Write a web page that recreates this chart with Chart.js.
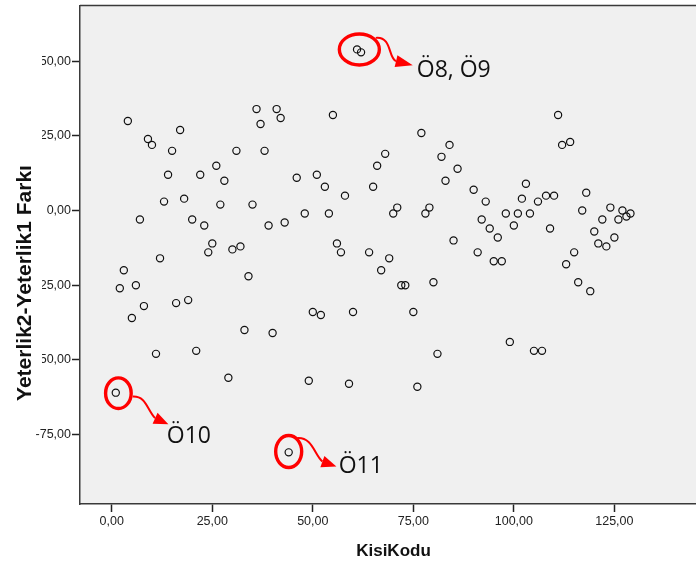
<!DOCTYPE html>
<html>
<head>
<meta charset="utf-8">
<script src="https://cdn.jsdelivr.net/npm/chart.js@4.4.1/dist/chart.umd.min.js"></script>
<style>
  html, body { margin: 0; padding: 0; background: #fff; }
  #chart { display: block; }
</style>
</head>
<body>
<canvas id="chart" width="696" height="561"></canvas>
<script>
"use strict"

// KisiKodu (x) and Yeterlik2 - Yeterlik1 difference (y)
const kisiKodu = [
  1, 2, 3, 4, 5, 6, 7, 8, 9, 10, 11, 12, 13, 14, 15, 16, 17, 18, 19, 20,
  21, 22, 23, 24, 25, 26, 27, 28, 29, 30, 31, 32, 33, 34, 35, 36, 37, 38, 39, 40,
  41, 42, 43, 44, 46, 48, 49, 50, 51, 52, 53, 54, 55, 56, 57, 58, 59, 60,
  61, 62, 64, 65, 66, 67, 68, 69, 70, 71, 72, 73, 75, 76, 77, 78, 79, 80,
  81, 82, 83, 84, 85, 86, 90, 91, 92, 93, 94, 95, 96, 97, 98, 99, 100,
  101, 102, 103, 104, 105, 106, 107, 108, 109, 110, 111, 112, 113, 114, 115, 116, 117, 118, 119, 120,
  121, 122, 123, 124, 125, 126, 127, 128, 129
];
const fark = [
  -61, -26, -20, 30, -36, -25, -3, -32, 24, 22, -48, -16, 3, 12, 20, -31, 27, 4, -30, -3,
  -47, 12, -5, -14, -11, 15, 2, 10, -56, -13, 20, -12, -40, -22, 2, 34, 29, 20, -5, -41,
  34, 31, -4, -81, 11, -1, -57, -34, 12, -35, 8, -1, 32, -11, -14, 5, -58, -34,
  54, 53, -14, 8, 15, -20, 19, -16, -1, 1, -25, -25, -34, -59, 26, -1, 1, -24,
  -48, 18, 10, 22, -10, 14, 7, -14, -3, 3, -6, -17, -9, -17, -1, -44, -5,
  -1, 4, 9, -1, -47, 3, -47, 5, -6, 5, 32, 22, -18, 23, -14, -24, 0, 6, -27, -7,
  -11, -3, -12, 1, -9, -3, 0, -2, -1
];

const xTicks = [0, 25, 50, 75, 100, 125];
const yTicks = [-75, -50, -25, 0, 25, 50];

const xTitle = 'KisiKodu';
const yTitle = 'Yeterlik2-Yeterlik1 Farkı';

// red rings + arrows marking the outliers (offsets in px from the ringed point)
const callouts = [
  { ids: [61, 62], text: 'Ö8, Ö9', shift: [0.3, -1.4], rx: 20, ry: 15.5,
    from: [16.4, -11.6], bend1: [32.7, -13.3], bend2: [28.7, 8.7], base: [36.7, 11.7], tip: [53.4, 15.7], label: [57.4, 28] },
  { ids: [1], text: 'Ö10', shift: [2.6, 0.5], rx: 12.8, ry: 15.3,
    from: [14.4, 3.4], bend1: [27.7, 2.7], bend2: [28.7, 16.7], base: [36.7, 25], tip: [50, 31], label: [48.4, 49.4] },
  { ids: [44], text: 'Ö11', shift: [0, -0.8], rx: 13, ry: 16,
    from: [8.4, -13.4], bend1: [23.7, -14.7], bend2: [25.7, 3.3], base: [33.7, 10], tip: [47.7, 15], label: [50, 21] }
];

const FONT = '"Liberation Sans", Arial, sans-serif';
const comma = v => Number(v).toFixed(2).replace('.', ',');

// gray plot panel, top border, axis titles and the red callouts
const frame = {
  id: 'frame',
  beforeDraw(chart) {
    const { ctx, chartArea: a } = chart;
    ctx.save();
    ctx.fillStyle = '#fff';
    ctx.fillRect(0, 0, chart.width, chart.height);
    ctx.fillStyle = '#f0f0f0';
    ctx.fillRect(a.left, a.top, a.right - a.left, a.bottom - a.top);
    ctx.restore();
  },
  afterDraw(chart) {
    const { ctx, chartArea: a, scales } = chart;
    ctx.save();
    ctx.strokeStyle = '#3a3a3a';
    ctx.lineWidth = 1.5;
    ctx.beginPath();
    ctx.moveTo(a.left, a.top);
    ctx.lineTo(a.right, a.top);
    ctx.stroke();

    // the y title box sits over the left edge of the tick labels
    ctx.fillStyle = '#fff';
    ctx.fillRect(0, 0, 42, 410);

    ctx.fillStyle = '#111';
    ctx.font = 'bold 21px ' + FONT;
    ctx.textAlign = 'center';
    ctx.textBaseline = 'alphabetic';
    ctx.save();
    ctx.translate(31, 283);
    ctx.rotate(-Math.PI / 2);
    ctx.fillText(yTitle, 0, 0);
    ctx.restore();
    ctx.font = 'bold 17px ' + FONT;
    ctx.fillText(xTitle, 393.5, 555.5);

    callouts.forEach(c => {
      const px = c.ids.map(id => scales.x.getPixelForValue(id));
      const py = c.ids.map(id => scales.y.getPixelForValue(fark[kisiKodu.indexOf(id)]));
      const cx = px.reduce((s, v) => s + v, 0) / px.length + c.shift[0];
      const cy = py.reduce((s, v) => s + v, 0) / py.length + c.shift[1];
      const p = o => [cx + o[0], cy + o[1]];

      ctx.strokeStyle = '#f00';
      ctx.fillStyle = '#f00';
      ctx.lineWidth = 3.4;
      ctx.beginPath();
      ctx.ellipse(cx, cy, c.rx, c.ry, 0, 0, Math.PI * 2);
      ctx.stroke();

      const s = p(c.from), b1 = p(c.bend1), b2 = p(c.bend2), e = p(c.base), t = p(c.tip);
      ctx.lineWidth = 2;
      ctx.beginPath();
      ctx.moveTo(s[0], s[1]);
      ctx.bezierCurveTo(b1[0], b1[1], b2[0], b2[1], e[0], e[1]);
      ctx.stroke();

      const dx = t[0] - e[0], dy = t[1] - e[1];
      const len = Math.hypot(dx, dy);
      const nx = -dy / len * 6, ny = dx / len * 6;
      ctx.beginPath();
      ctx.moveTo(t[0], t[1]);
      ctx.lineTo(e[0] + nx, e[1] + ny);
      ctx.lineTo(e[0] - nx, e[1] - ny);
      ctx.closePath();
      ctx.fill();

      const l = p(c.label);
      ctx.fillStyle = '#111';
      ctx.font = '23px "Open Sans", sans-serif';
      ctx.textAlign = 'left';
      ctx.fillText(c.text, l[0], l[1]);
    });
    ctx.restore();
  }
};

const axisGrid = { drawOnChartArea: false, drawTicks: true, tickLength: 8, tickColor: '#222', tickWidth: 1.5 };
const axisBorder = { display: true, color: '#3a3a3a', width: 1.5 };
const tickFont = { family: FONT, size: 12.5 };

new Chart(document.getElementById('chart'), {
  type: 'scatter',
  data: {
    datasets: [{
      data: kisiKodu.map((x, i) => ({ x: x, y: fark[i] })),
      pointRadius: 3.6,
      pointBorderWidth: 1.2,
      pointBorderColor: '#111',
      pointBackgroundColor: 'rgba(0,0,0,0)'
    }]
  },
  options: {
    responsive: false,
    animation: false,
    layout: { padding: { top: 5.5, right: 0, left: 0, bottom: 0 }, autoPadding: false },
    plugins: { legend: { display: false }, tooltip: { enabled: false } },
    scales: {
      x: {
        type: 'linear',
        min: -7.9,
        max: 145.3,
        afterBuildTicks: s => { s.ticks = xTicks.map(v => ({ value: v })); },
        afterFit: s => { s.height = 57; s.paddingLeft = 0; s.paddingRight = 0; },
        grid: axisGrid,
        border: axisBorder,
        ticks: { callback: v => comma(v), color: '#222', font: tickFont, padding: 2, maxRotation: 0, autoSkip: false }
      },
      y: {
        type: 'linear',
        min: -98.3,
        max: 68.7,
        afterBuildTicks: s => { s.ticks = yTicks.map(v => ({ value: v })); },
        afterFit: s => { s.width = 80; s.paddingTop = 0; s.paddingBottom = 0; },
        grid: axisGrid,
        border: axisBorder,
        ticks: { callback: v => comma(v), color: '#222', font: tickFont, padding: 1, autoSkip: false }
      }
    }
  },
  plugins: [frame]
});
</script>
</body>
</html>
